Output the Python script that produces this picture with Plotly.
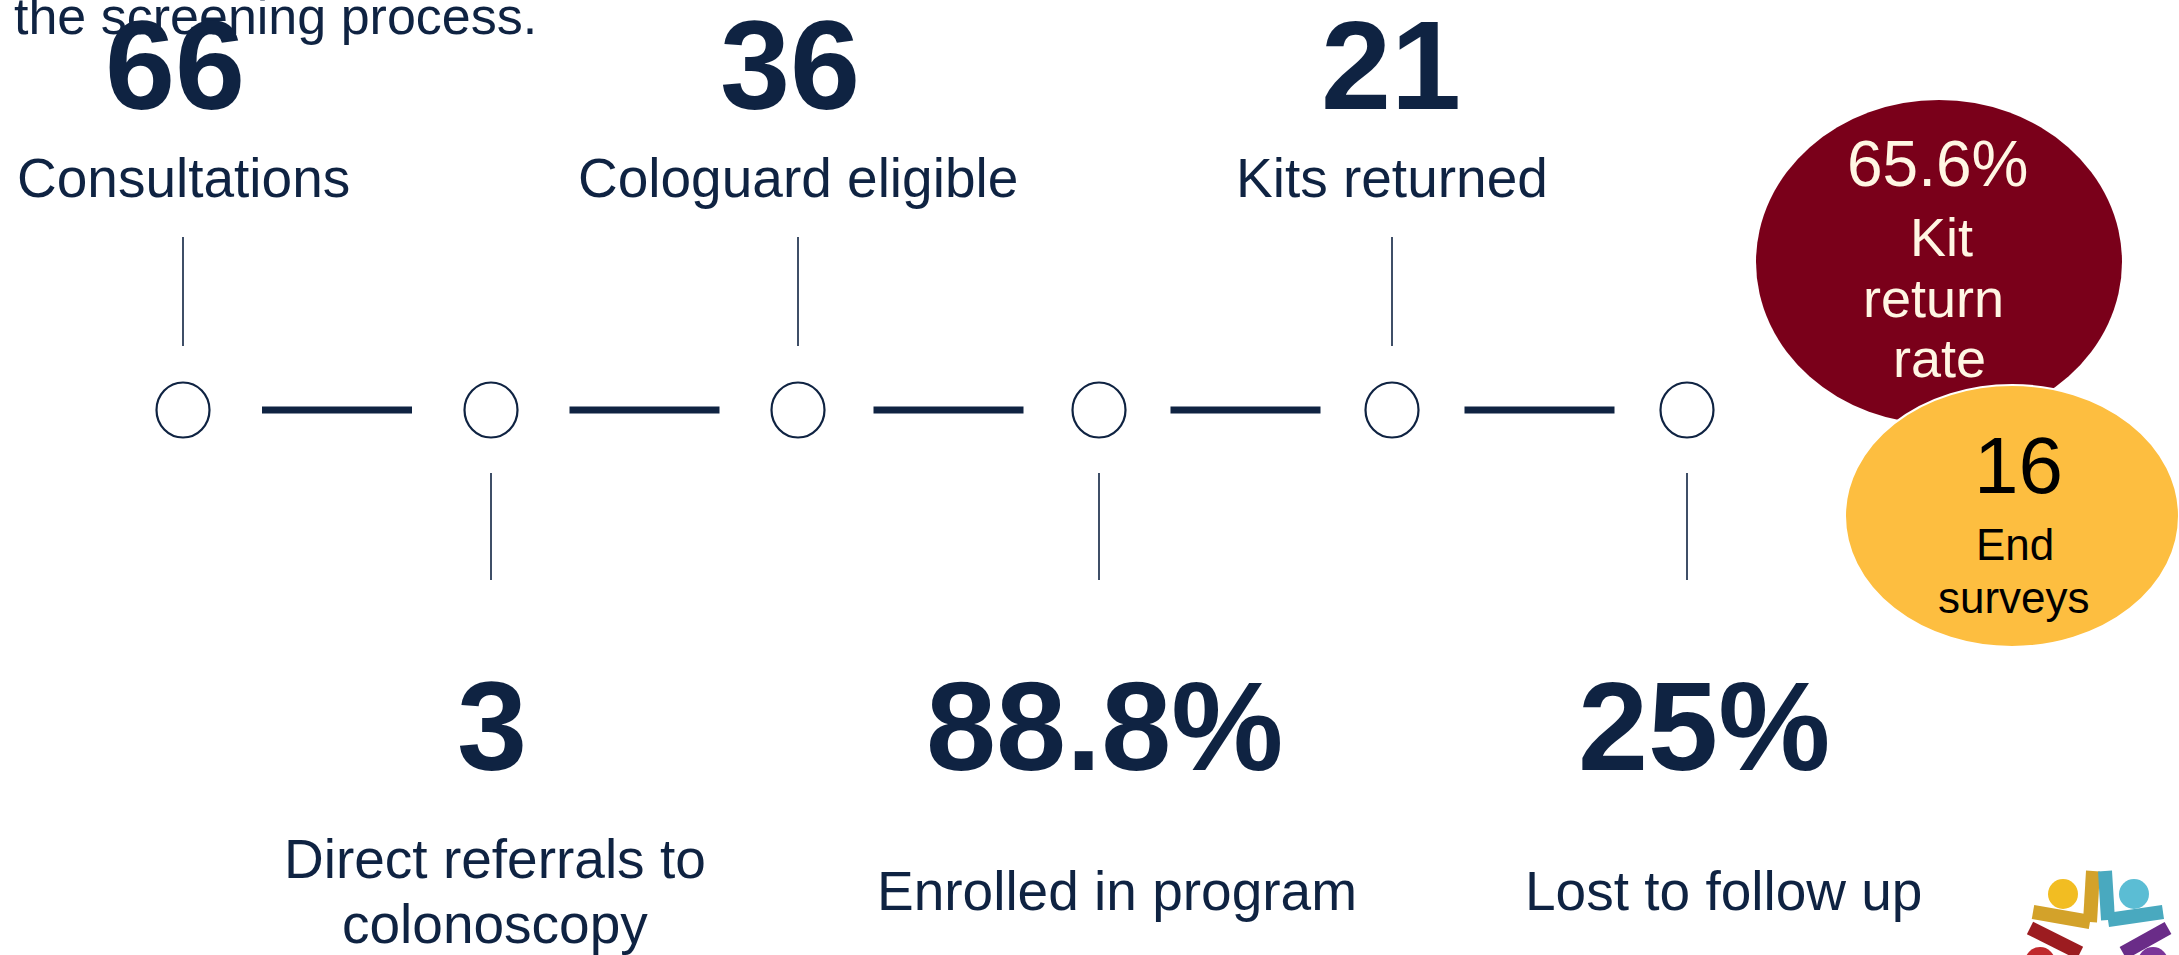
import plotly.graph_objects as go

# ---------------- data ----------------
intro_text = "the screening process."
stage_values = [66, 3, 36, 88.8, 21, 25]
stage_units = ["", "", "", "%", "", "%"]
stage_labels = [
    "Consultations",
    "Direct referrals to\ncolonoscopy",
    "Cologuard eligible",
    "Enrolled in program",
    "Kits returned",
    "Lost to follow up",
]
callout_values = ["65.6%", "16"]
callout_labels = ["Kit\nreturn\nrate", "End\nsurveys"]

# ---------------- layout constants ----------------
W, H = 2179, 955
NAVY = "#0F2342"
MAROON = "#7A001A"
GOLD = "#FDBE40"
CREAM = "#FFF6E3"
FONT = "Liberation Sans, Arial, sans-serif"

stage_x = [183, 491, 798, 1099, 1392, 1687]
node_y = 410
node_rx, node_ry = 26.5, 27.5
num_dx = [-8, 1, -8, 5, -1, 17]
lab_dx = [0, 4, 0, 18, 0, 36]
top_num_y, top_lab_y = 65, 178
bot_num_y, bot_lab_y = 726, 891
lab_line_gap = 65
NUM_SIZE, LAB_SIZE = 126, 55

fig = go.Figure()
# invisible trace to establish axes
fig.add_trace(go.Scatter(x=stage_x, y=[node_y] * len(stage_x), mode="markers",
                         marker=dict(size=1, opacity=0), hoverinfo="skip", showlegend=False))

shapes = []
annotations = []

# intro line (cut at top)
annotations.append(dict(x=12, y=47, xref="x", yref="y", text=intro_text, showarrow=False,
                        xanchor="left", yanchor="bottom",
                        font=dict(family=FONT, size=52, color=NAVY)))

for i, (v, u, lab) in enumerate(zip(stage_values, stage_units, stage_labels)):
    sx = stage_x[i]
    # node circle
    shapes.append(dict(type="circle", xref="x", yref="y",
                       x0=sx - node_rx, x1=sx + node_rx, y0=node_y - node_ry, y1=node_y + node_ry,
                       line=dict(color=NAVY, width=2.2), fillcolor="rgba(0,0,0,0)"))
    # dash to next node
    if i < len(stage_x) - 1:
        mid = (sx + stage_x[i + 1]) / 2
        shapes.append(dict(type="line", xref="x", yref="y", x0=mid - 75, x1=mid + 75,
                           y0=node_y, y1=node_y, line=dict(color=NAVY, width=7)))
    top = (i % 2 == 0)
    # connector
    if top:
        y0c, y1c = 237, 346
        ny, ly = top_num_y, top_lab_y
    else:
        y0c, y1c = 473, 580
        ny, ly = bot_num_y, bot_lab_y
    shapes.append(dict(type="line", xref="x", yref="y", x0=sx, x1=sx, y0=y0c, y1=y1c,
                       line=dict(color=NAVY, width=1.6)))
    txt = f"{v:g}{u}"
    annotations.append(dict(x=sx + num_dx[i], y=ny, xref="x", yref="y", text=f"<b>{txt}</b>",
                            showarrow=False, xanchor="center", yanchor="middle",
                            font=dict(family=FONT, size=NUM_SIZE, color=NAVY)))
    lines = lab.split("\n")
    n = len(lines)
    for k, line in enumerate(lines):
        yy = ly + (k - (n - 1) / 2) * lab_line_gap
        annotations.append(dict(x=sx + lab_dx[i], y=yy, xref="x", yref="y", text=line,
                                showarrow=False, xanchor="center", yanchor="middle",
                                font=dict(family=FONT, size=LAB_SIZE, color=NAVY)))

# callout bubbles
bubbles = [
    dict(cx=1939, cy=262, rx=183, ry=162, fill=MAROON, line="rgba(0,0,0,0)", tc=CREAM,
         vy=164, vsize=64, ly=[237, 298, 358], lsize=54, vx=1937, lx=[1941, 1933, 1939]),
    dict(cx=2012, cy=516, rx=167, ry=131, fill=GOLD, line="#FFFFFF", tc="#000000",
         vy=465, vsize=80, ly=[544, 597], lsize=44, vx=2018, lx=[2015, 2014]),
]
for b, val, lab in zip(bubbles, callout_values, callout_labels):
    shapes.append(dict(type="circle", xref="x", yref="y", x0=b["cx"] - b["rx"], x1=b["cx"] + b["rx"],
                       y0=b["cy"] - b["ry"], y1=b["cy"] + b["ry"], fillcolor=b["fill"],
                       line=dict(color=b["line"], width=2), layer="above"))
    annotations.append(dict(x=b["vx"], y=b["vy"], xref="x", yref="y", text=val, showarrow=False,
                            xanchor="center", yanchor="middle",
                            font=dict(family=FONT, size=b["vsize"], color=b["tc"])))
    for line, yy, xx in zip(lab.split("\n"), b["ly"], b["lx"]):
        annotations.append(dict(x=xx, y=yy, xref="x", yref="y", text=line, showarrow=False,
                                xanchor="center", yanchor="middle",
                                font=dict(family=FONT, size=b["lsize"], color=b["tc"])))

# logo (partially visible, bottom-right)
def seg(x0, y0, x1, y1, color, w=14):
    return dict(type="line", xref="x", yref="y", x0=x0, y0=y0, x1=x1, y1=y1,
                line=dict(color=color, width=w), layer="above")

def dot(cx, cy, r, color):
    return dict(type="circle", xref="x", yref="y", x0=cx - r, x1=cx + r, y0=cy - r, y1=cy + r,
                fillcolor=color, line=dict(width=0), layer="above")

shapes += [
    seg(2033, 912, 2090, 922, "#D3A22A"), seg(2090, 922, 2093, 871, "#D3A22A"),
    seg(2108, 920, 2163, 912, "#49A9BF"), seg(2105, 871, 2108, 920, "#49A9BF"),
    seg(2030, 928, 2080, 953, "#9C1C20"), seg(2168, 928, 2123, 953, "#6A2C88"),
    dot(2063, 894, 15, "#F2BD22"), dot(2134, 894, 15, "#5BBDD4"),
    dot(2040, 962, 15, "#C0282C"), dot(2153, 962, 15, "#7B3599"),
]

fig.update_layout(
    width=W, height=H, margin=dict(l=0, r=0, t=0, b=0),
    paper_bgcolor="white", plot_bgcolor="white",
    xaxis=dict(range=[0, W], visible=False, fixedrange=True),
    yaxis=dict(range=[H, 0], visible=False, fixedrange=True),
    shapes=shapes, annotations=annotations, showlegend=False,
)

fig.write_html("out.html", config={"displayModeBar": False},
               post_script="document.body.style.margin='0';document.body.style.overflow='hidden';")
